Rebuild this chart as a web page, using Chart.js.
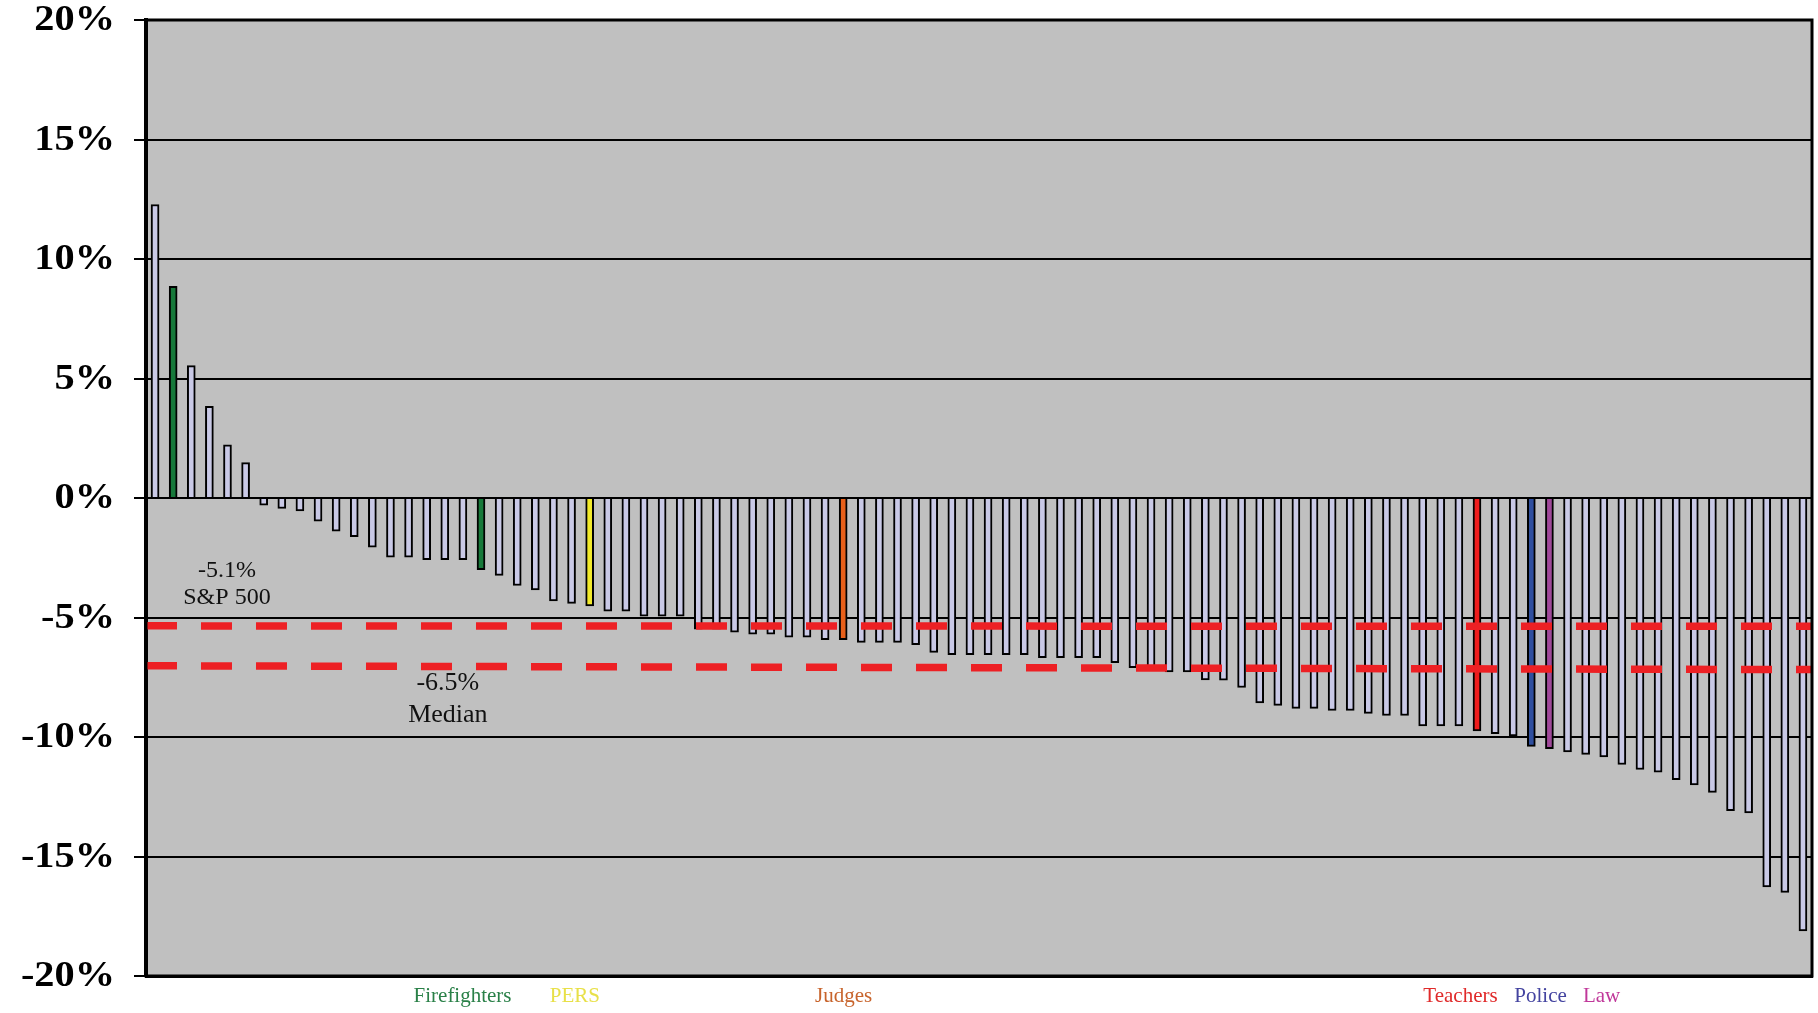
<!DOCTYPE html>
<html>
<head>
<meta charset="utf-8">
<script src="https://cdn.jsdelivr.net/npm/chart.js@4.4.1/dist/chart.umd.min.js"></script>
<style>
  html, body { margin: 0; background: #fff; }
  #wrap { width: 1818px; height: 1013px; }
</style>
</head>
<body>
<div id="wrap"><canvas id="myChart"></canvas></div>
<script>
// one year return of each public pension plan, sorted (in %)
const returns = [
  12.28, 8.86, 5.54, 3.84, 2.22, 1.48, -0.30, -0.44, -0.54, -0.97,
  -1.39, -1.62, -2.06, -2.48, -2.48, -2.58, -2.58, -2.58, -3.00, -3.24,
  -3.66, -3.85, -4.31, -4.41, -4.52, -4.73, -4.73, -4.94, -4.94, -4.94,
  -5.49, -5.49, -5.61, -5.70, -5.70, -5.82, -5.82, -5.93, -5.93, -6.04,
  -6.04, -6.04, -6.14, -6.46, -6.56, -6.56, -6.56, -6.56, -6.56, -6.68,
  -6.68, -6.68, -6.68, -6.89, -7.10, -7.10, -7.28, -7.28, -7.61, -7.62,
  -7.93, -8.57, -8.68, -8.80, -8.80, -8.89, -8.89, -9.01, -9.10, -9.10,
  -9.54, -9.54, -9.54, -9.75, -9.86, -9.96, -10.39, -10.49, -10.62, -10.73,
  -10.83, -11.15, -11.36, -11.47, -11.79, -12.00, -12.32, -13.08, -13.18, -16.27,
  -16.50, -18.11
];
const categories = returns.map((v, i) => 'Plan ' + (i + 1));
const yTicks = [20, 15, 10, 5, 0, -5, -10, -15, -20];

// reference lines (value at left edge / right edge)
const sp500Line = [-5.35, -5.37];
const medianLine = [-7.02, -7.18];

// highlighted plans
const groupNames = ['Firefighters', 'PERS', 'Judges', 'Teachers', 'Police', 'Law'];
const groupBars = [[1, 18], [24], [38], [73], [76], [77]];
const groupBarColors = ['#17793a', '#f2ea2c', '#e8601a', '#ee1c1c', '#2f4f9f', '#a0489a'];
const groupTextColors = ['#2a8048', '#e8e048', '#c8642c', '#e02a2a', '#4444a0', '#c0389a'];

// where the texts sit (category index, value)
const groupLabelAt = [16.98, 23.18, 38.02, 72.09, 76.51, 79.88];
const notes = [
  { lines: ['-5.1%', 'S&P 500'], x: 3.97, y: [-3.05, -4.18], size: 24 },
  { lines: ['-6.5%', 'Median'], x: 16.17, y: [-7.74, -9.10], size: 26 }
];

const barFill = returns.map(() => '#c9c9e6');
groupBars.forEach((idx, g) => idx.forEach(i => { barFill[i] = groupBarColors[g]; }));

const plotBack = {
  id: 'plotBack',
  beforeDraw(chart) {
    const { ctx, chartArea: a } = chart;
    ctx.save();
    ctx.fillStyle = '#c0c0c0';
    ctx.fillRect(a.left, a.top, a.right - a.left, a.bottom - a.top);
    ctx.restore();
  },
  afterDatasetsDraw(chart) {
    // dashed S&P 500 and median lines, on top of the bars
    const { ctx, chartArea: a, scales: { y } } = chart;
    ctx.save();
    ctx.strokeStyle = '#ed2024';
    ctx.lineWidth = 7.5;
    ctx.setLineDash([31, 24]);
    [sp500Line, medianLine].forEach(l => {
      ctx.beginPath();
      ctx.moveTo(a.left, y.getPixelForValue(l[0]));
      ctx.lineTo(a.right, y.getPixelForValue(l[1]));
      ctx.stroke();
    });
    ctx.restore();
  },
  afterDraw(chart) {
    const { ctx, chartArea: a, scales } = chart;
    const x = scales.x, y = scales.y;
    ctx.save();
    ctx.strokeStyle = '#000';
    ctx.lineWidth = 3;
    ctx.strokeRect(a.left, a.top, a.right - a.left, a.bottom - a.top);

    // y labels, bold and a bit wide like the original
    ctx.fillStyle = '#000';
    ctx.font = 'bold 36px "Liberation Serif"';
    ctx.textAlign = 'right';
    ctx.textBaseline = 'middle';
    y.ticks.forEach(t => {
      ctx.save();
      ctx.translate(a.left - 31, y.getPixelForValue(t.value) + 1);
      ctx.scale(1.12, 1);
      ctx.fillText(t.value + '%', 0, 0);
      ctx.restore();
    });

    ctx.textAlign = 'center';
    notes.forEach(n => {
      ctx.font = n.size + 'px "Liberation Serif"';
      ctx.fillStyle = '#111';
      n.lines.forEach((t, k) => ctx.fillText(t, x.getPixelForValue(n.x), y.getPixelForValue(n.y[k])));
    });

    ctx.font = '21px "Liberation Serif"';
    groupNames.forEach((name, g) => {
      ctx.fillStyle = groupTextColors[g];
      ctx.fillText(name, x.getPixelForValue(groupLabelAt[g]), a.bottom + 20);
    });
    ctx.restore();
  }
};

new Chart(document.getElementById('myChart'), {
  type: 'bar',
  data: {
    labels: categories,
    datasets: [{
      data: returns, backgroundColor: barFill, borderColor: '#000',
      borderWidth: 2, barThickness: 8
    }]
  },
  options: {
    responsive: true,
    maintainAspectRatio: false,
    animation: false,
    layout: { padding: { top: 20, right: 6, left: 0, bottom: 0 } },
    plugins: { legend: { display: false }, tooltip: { enabled: false } },
    scales: {
      x: {
        ticks: { display: false },
        grid: { display: false, drawTicks: false },
        border: { display: true, color: '#000', width: 3 },
        afterFit: s => { s.height = 37; s.paddingLeft = 0; s.paddingRight = 0; }
      },
      y: {
        min: -20, max: 20,
        afterBuildTicks: s => { s.ticks = yTicks.map(v => ({ value: v })); },
        afterFit: s => { s.width = 146; s.paddingTop = 0; s.paddingBottom = 0; },
        ticks: { display: false },
        grid: { color: '#000', lineWidth: 2, tickLength: 12 },
        border: { display: true, color: '#000', width: 4 }
      }
    }
  },
  plugins: [plotBack]
});
</script>
</body>
</html>
